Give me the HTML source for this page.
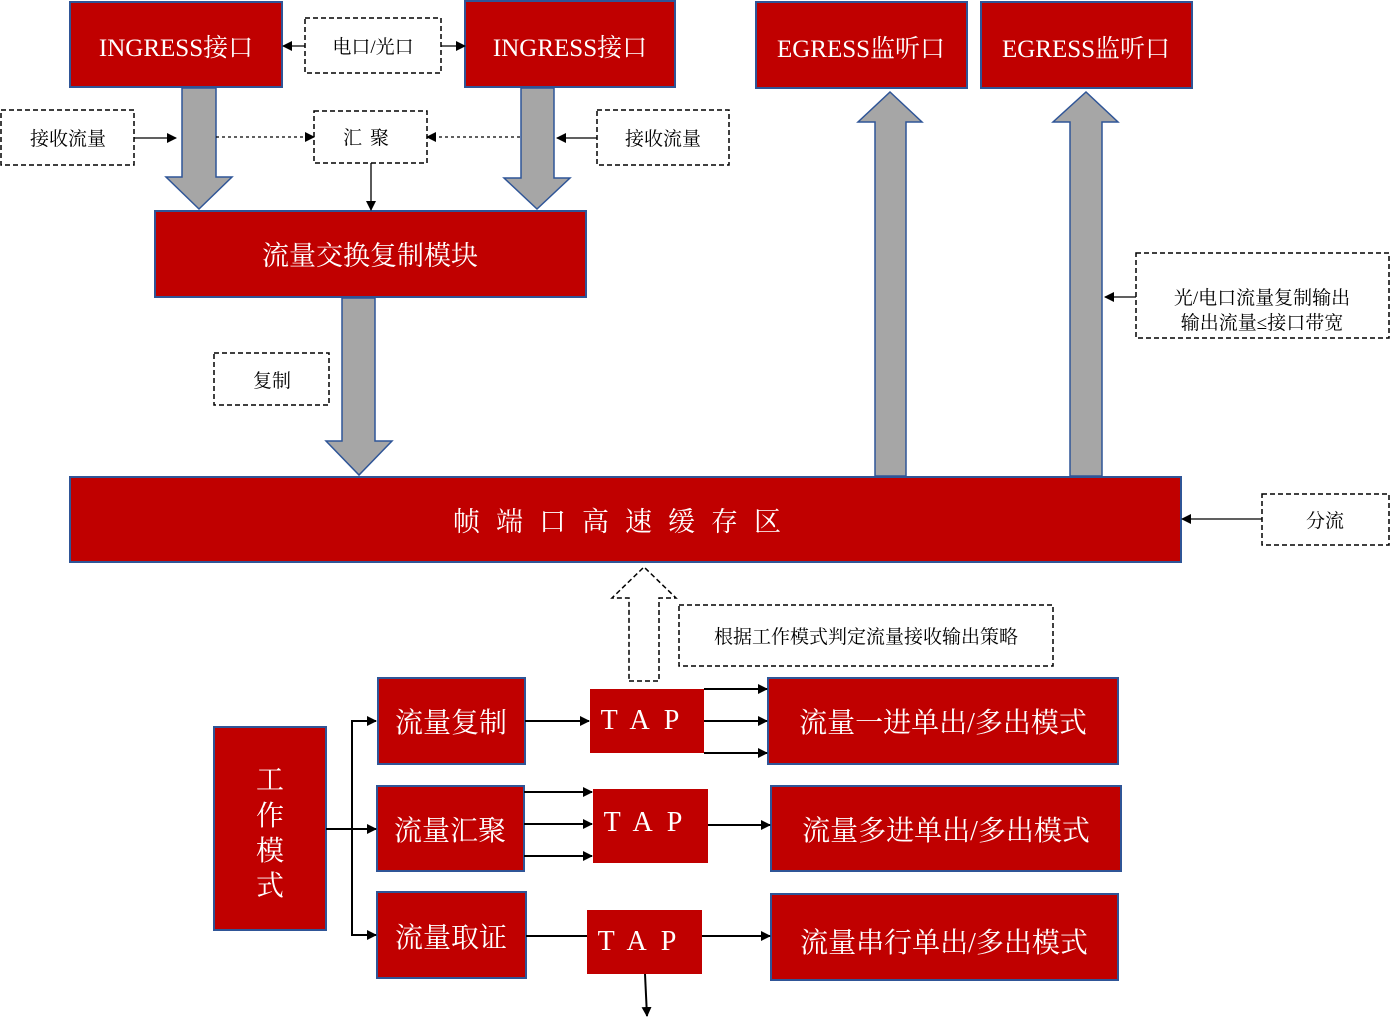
<!DOCTYPE html>
<html><head><meta charset="utf-8"><style>
html,body{margin:0;padding:0;background:#fff;}
svg{display:block;}
text{font-family:"Liberation Serif","Noto Serif CJK SC",serif;}
</style></head><body>
<svg width="1390" height="1031" viewBox="0 0 1390 1031" xmlns="http://www.w3.org/2000/svg">
<defs>
<marker id="ah" markerWidth="10" markerHeight="10" refX="9" refY="5" orient="auto" markerUnits="userSpaceOnUse"><path d="M0,0 L10,5 L0,10 z" fill="#000"/></marker>
</defs>
<g stroke="#2F5597" stroke-width="2" fill="#C00000">
<rect x="70" y="2" width="212" height="85"/>
<rect x="465" y="1" width="210" height="86"/>
<rect x="756" y="2" width="211" height="86"/>
<rect x="981" y="2" width="211" height="86"/>
<rect x="155" y="211" width="431" height="86"/>
<rect x="70" y="477" width="1111" height="85"/>
<rect x="214" y="727" width="112" height="203"/>
<rect x="378" y="678" width="147" height="86"/>
<rect x="377" y="786" width="147" height="85"/>
<rect x="377" y="892" width="149" height="86"/>
<rect x="768" y="678" width="350" height="86"/>
<rect x="771" y="786" width="350" height="85"/>
<rect x="771" y="894" width="347" height="86"/>
</g>
<g fill="#C00000">
<rect x="590" y="689" width="114" height="64"/>
<rect x="593" y="789" width="115" height="74"/>
<rect x="587" y="910" width="115" height="64"/>
</g>
<!-- gray arrows -->
<g fill="#A6A6A6" stroke="#2F5597" stroke-width="1.5">
<path d="M182,88 L216,88 L216,177 L232,177 L199,209 L166,177 L182,177 z"/>
<path d="M521,88 L554,88 L554,178 L570,178 L537,209 L504,178 L521,178 z"/>
<path d="M342,298 L375,298 L375,441 L392,441 L359,475 L326,441 L342,441 z"/>
<path d="M875,476 L906,476 L906,122 L922,122 L890,92 L858,122 L875,122 z"/>
<path d="M1070,476 L1102,476 L1102,122 L1118,122 L1086,92 L1053,122 L1070,122 z"/>
</g>
<!-- dashed boxes -->
<g fill="#fff" stroke="#000" stroke-width="1.5" stroke-dasharray="5,3">
<rect x="305" y="18" width="136" height="55"/>
<rect x="1" y="110" width="133" height="55"/>
<rect x="314" y="111" width="113" height="52"/>
<rect x="597" y="110" width="132" height="55"/>
<rect x="214" y="353" width="115" height="52"/>
<rect x="1136" y="253" width="253" height="85"/>
<rect x="1262" y="494" width="127" height="51"/>
<rect x="679" y="605" width="374" height="61"/>
<path d="M629,681 L659,681 L659,598 L676,598 L644,567 L612,598 L629,598 z"/>
</g>
<!-- connectors -->
<g stroke="#000" stroke-width="1.3" fill="none" marker-end="url(#ah)">
<line x1="305" y1="46" x2="283" y2="46"/>
<line x1="441" y1="46" x2="465" y2="46"/>
<line x1="134" y1="138" x2="176" y2="138"/>
<line x1="597" y1="138" x2="557" y2="138"/>
<line x1="216" y1="137" x2="314" y2="137" stroke-dasharray="3,3"/>
<line x1="520" y1="137" x2="427" y2="137" stroke-dasharray="3,3"/>
<line x1="371" y1="163" x2="371" y2="210"/>
<line x1="1136" y1="297" x2="1105" y2="297"/>
<line x1="1262" y1="519" x2="1182" y2="519"/>
</g>
<g stroke="#000" stroke-width="2" fill="none" marker-end="url(#ah)">
<line x1="326" y1="829" x2="376" y2="829"/>
<path d="M352,829 L352,721 L376,721"/>
<path d="M352,829 L352,935 L376,935"/>
<line x1="525" y1="721" x2="589" y2="721"/>
<line x1="704" y1="689" x2="767" y2="689"/>
<line x1="704" y1="721" x2="767" y2="721"/>
<line x1="704" y1="753" x2="767" y2="753"/>
<line x1="524" y1="792" x2="592" y2="792"/>
<line x1="524" y1="824" x2="592" y2="824"/>
<line x1="524" y1="856" x2="592" y2="856"/>
<line x1="708" y1="825" x2="770" y2="825"/>
<line x1="702" y1="936" x2="770" y2="936"/>
<line x1="645" y1="974" x2="647" y2="1016"/>
</g>
<line x1="526" y1="936" x2="587" y2="936" stroke="#000" stroke-width="2"/>
<!-- text -->
<g fill="#fff" text-anchor="middle" font-size="25">
<text x="176" y="56">INGRESS接口</text>
<text x="570" y="56">INGRESS接口</text>
<text x="861" y="57">EGRESS监听口</text>
<text x="1086" y="57">EGRESS监听口</text>
<text x="370" y="265" font-size="27">流量交换复制模块</text>
<text x="625" y="531" font-size="27" letter-spacing="16">帧端口高速缓存区</text>
<text x="451" y="732" font-size="28">流量复制</text>
<text x="450" y="840" font-size="28">流量汇聚</text>
<text x="451" y="947" font-size="28">流量取证</text>
<text x="943" y="732" font-size="28">流量一进单出/多出模式</text>
<text x="946" y="840" font-size="28">流量多进单出/多出模式</text>
<text x="944" y="952" font-size="28">流量串行单出/多出模式</text>
<text x="647" y="729" font-size="28" letter-spacing="14">TAP</text>
<text x="650" y="831" font-size="28" letter-spacing="14">TAP</text>
<text x="644" y="950" font-size="28" letter-spacing="14">TAP</text>
<text x="270" y="789" font-size="28">工</text>
<text x="270" y="825" font-size="28">作</text>
<text x="270" y="860" font-size="28">模</text>
<text x="270" y="895" font-size="28">式</text>
</g>
<g fill="#000" text-anchor="middle" font-size="19">
<text x="373" y="53">电口/光口</text>
<text x="68" y="145">接收流量</text>
<text x="370" y="144" letter-spacing="8">汇聚</text>
<text x="663" y="145">接收流量</text>
<text x="272" y="387">复制</text>
<text x="1262" y="304">光/电口流量复制输出</text>
<text x="1262" y="329">输出流量≤接口带宽</text>
<text x="1325" y="527">分流</text>
<text x="866" y="643">根据工作模式判定流量接收输出策略</text>
</g>
</svg>
</body></html>
